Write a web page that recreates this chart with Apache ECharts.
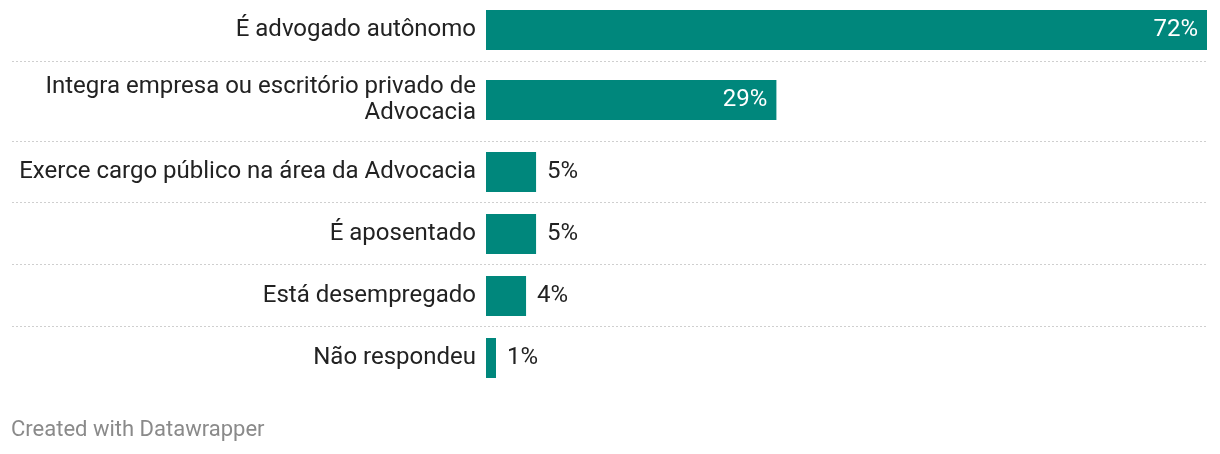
<!DOCTYPE html>
<html>
<head>
<meta charset="utf-8">
<script src="https://cdn.jsdelivr.net/npm/echarts@6/dist/echarts.min.js"></script>
<style>
html,body{margin:0;padding:0;background:#fff;}
#chart{width:1220px;height:454px;}
</style>
</head>
<body>
<div id="chart"></div>
<script>
const categories = [
  "É advogado autônomo",
  "Integra empresa ou escritório privado de\nAdvocacia",
  "Exerce cargo público na área da Advocacia",
  "É aposentado",
  "Está desempregado",
  "Não respondeu"
];
const values = [72, 29, 5, 5, 4, 1];
const valueMax = 72;

const barColor = '#00877c';
const font = 'Roboto, "Noto Sans", sans-serif';

// layout (pixels)
const barTops = [10, 80, 152, 214, 276, 338];
const barHeight = 40;
const separators = [61, 141, 202, 264, 326];

const chart = echarts.init(document.getElementById('chart'), null, {renderer: 'canvas'});

const grids = [], xAxes = [], yAxes = [], series = [];
categories.forEach((cat, i) => {
  grids.push({left: 486, right: 13, top: barTops[i], height: barHeight, containLabel: false});
  xAxes.push({type: 'value', gridIndex: i, min: 0, max: valueMax, show: false});
  yAxes.push({
    type: 'category', gridIndex: i, data: [cat],
    axisLine: {show: false}, axisTick: {show: false}, splitLine: {show: false},
    axisLabel: {
      margin: 10, color: '#222', fontFamily: font, fontSize: 24, lineHeight: 26.5,
      align: 'right'
    }
  });
  const inside = values[i] > 15;
  series.push({
    type: 'bar', xAxisIndex: i, yAxisIndex: i,
    data: [values[i]], barWidth: '100%',
    itemStyle: {color: barColor},
    silent: true,
    label: {
      show: true,
      position: inside ? 'insideRight' : 'right',
      distance: inside ? 9 : 11,
      formatter: '{c}%',
      color: inside ? '#fff' : '#222',
      fontFamily: font, fontSize: 24
    }
  });
});

const graphic = separators.map(y => ({
  type: 'line', silent: true,
  shape: {x1: 12, y1: y + 0.5, x2: 1207, y2: y + 0.5},
  style: {stroke: '#cfcfcf', lineWidth: 1, lineDash: [2, 2]}
}));
graphic.push({
  type: 'text', x: 11, y: 430, silent: true,
  style: {text: 'Created with Datawrapper', fill: '#8a8a8a', fontSize: 22, fontFamily: font, verticalAlign: 'middle', align: 'left'}
});

chart.setOption({
  animation: false,
  grid: grids, xAxis: xAxes, yAxis: yAxes, series: series, graphic: graphic
});
</script>
</body>
</html>
